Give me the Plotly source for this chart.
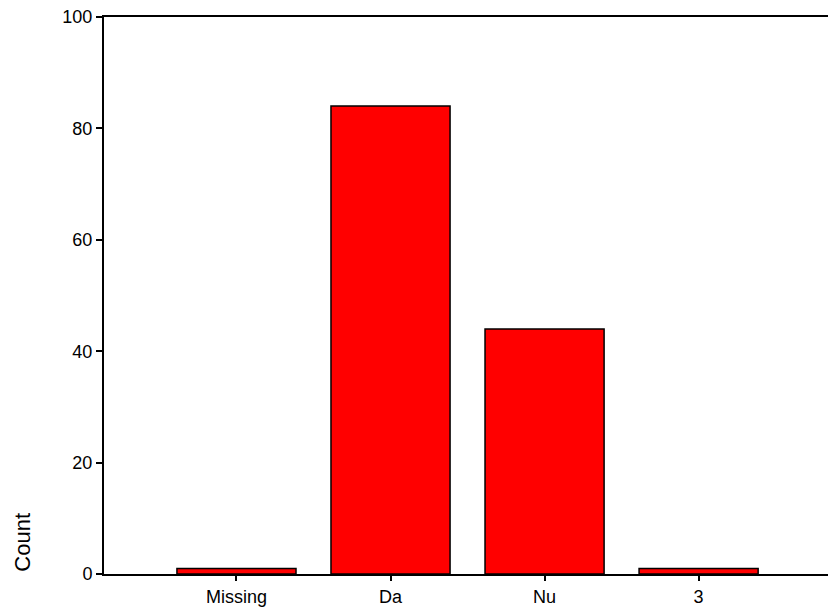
import plotly.graph_objects as go

# category counts
categories = ["Missing", "Da", "Nu", "3"]
counts = [1, 84, 44, 1]
y_ticks = [0, 20, 40, 60, 80, 100]

fig = go.Figure()

fig.add_trace(
    go.Bar(
        x=categories,
        y=counts,
        marker=dict(color="#ff0000", line=dict(color="#000000", width=1.5)),
        showlegend=False,
    )
)

fig.update_xaxes(
    type="category",
    range=[-0.86, 3.84],
    showline=True,
    linecolor="#000000",
    linewidth=2,
    mirror=True,
    ticks="outside",
    ticklen=5,
    tickwidth=1.5,
    tickcolor="#000000",
    showgrid=False,
    zeroline=False,
    tickfont=dict(size=18, color="#000000"),
)

fig.update_yaxes(
    range=[0, 100],
    tickvals=y_ticks,
    showline=True,
    linecolor="#000000",
    linewidth=2,
    ticks="outside",
    ticklen=6,
    tickwidth=1.5,
    tickcolor="#000000",
    showgrid=False,
    zeroline=False,
    tickfont=dict(size=18, color="#000000"),
)

fig.add_annotation(
    text="Count",
    textangle=-90,
    xref="paper", yref="paper",
    x=-0.113, y=0,
    xanchor="center", yanchor="bottom",
    showarrow=False,
    font=dict(size=22, color="#000000"),
)

fig.update_layout(
    width=828,
    height=612,
    margin=dict(l=104, r=0, t=17, b=38),
    bargap=0.227,
    paper_bgcolor="#ffffff",
    plot_bgcolor="#ffffff",
    font=dict(family="Arial, Liberation Sans, sans-serif", color="#000000"),
)

# drop the default 8px body margin so the figure sits at the window corner
fig.write_html(
    "out.html",
    config={"displayModeBar": False},
    post_script="document.body.style.margin='0px';",
)
